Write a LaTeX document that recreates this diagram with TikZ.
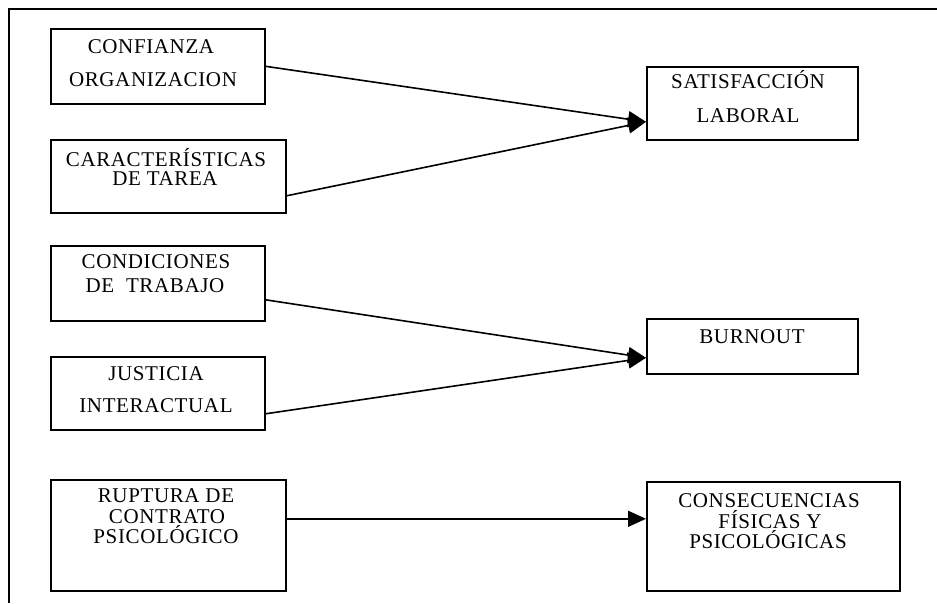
\documentclass[tikz,border=0pt]{standalone}
\usepackage{fontspec}
\setmainfont{Liberation Serif}[LetterSpace=3]
\usetikzlibrary{arrows.meta}
\begin{document}
\begin{tikzpicture}[x=1pt,y=-1pt,line width=1.6pt,
  box/.style={draw, rectangle, inner sep=0pt, anchor=north west},
  lbl/.style={anchor=base, inner sep=0pt, font=\fontsize{21}{21}\selectfont},
  conn/.style={-{Triangle[length=18pt,width=16pt]}}]
\useasboundingbox (0,0) rectangle (937,603);
% frame
\coordinate (fr1) at (937,9);
\coordinate (fr2) at (9,9);
\coordinate (fr3) at (9,603);
\draw (fr1) -- (fr2) -- (fr3);
% boxes
\node[box, minimum width=214pt, minimum height=75pt] (conf) at (50,28) {};
\node[box, minimum width=235pt, minimum height=73pt] (car) at (50,139) {};
\node[box, minimum width=211pt, minimum height=73pt] (sat) at (646,66) {};
\node[box, minimum width=214pt, minimum height=75pt] (cond) at (50,245) {};
\node[box, minimum width=214pt, minimum height=73pt] (just) at (50,356) {};
\node[box, minimum width=211pt, minimum height=55pt] (burn) at (646,318) {};
\node[box, minimum width=235pt, minimum height=111pt] (rup) at (50,479) {};
\node[box, minimum width=253pt, minimum height=109pt] (cons) at (646,481) {};
% labels
\node[lbl] (conf1) at (151,53) {CONFIANZA};
\node[lbl] (conf2) at (153,86) {ORGANIZACION};
\node[lbl] (car1) at (166,166) {CARACTERÍSTICAS};
\node[lbl] (car2) at (165,185) {DE TAREA};
\node[lbl] (sat1) at (748,88) {SATISFACCIÓN};
\node[lbl] (sat2) at (748,122) {LABORAL};
\node[lbl] (cond1) at (156,268) {CONDICIONES};
\node[lbl] (cond2) at (155,292) {DE\ \ TRABAJO};
\node[lbl] (just1) at (156,380) {JUSTICIA};
\node[lbl] (just2) at (156,412) {INTERACTUAL};
\node[lbl] (burn1) at (752,343) {BURNOUT};
\node[lbl] (rup1) at (166,502) {RUPTURA DE};
\node[lbl] (rup2) at (167,523) {CONTRATO};
\node[lbl] (rup3) at (166,543) {PSICOLÓGICO};
\node[lbl] (cons1) at (769,507) {CONSECUENCIAS};
\node[lbl] (cons2) at (770,528) {FÍSICAS Y};
\node[lbl] (cons3) at (768,548) {PSICOLÓGICAS};
% connectors
\draw[conn] (conf.east) -- ([yshift=-18.5pt]sat.west);
\draw[conn] ([yshift=-19.5pt]car.east) -- ([yshift=-18.5pt]sat.west);
\draw[conn] ([yshift=-16.5pt]cond.east) -- ([yshift=-11.5pt]burn.west);
\draw[conn] ([yshift=-20.5pt]just.east) -- ([yshift=-11.5pt]burn.west);
\draw[conn] ([yshift=16.5pt]rup.east) -- ([yshift=17.5pt]cons.west);
\end{tikzpicture}
\end{document}
